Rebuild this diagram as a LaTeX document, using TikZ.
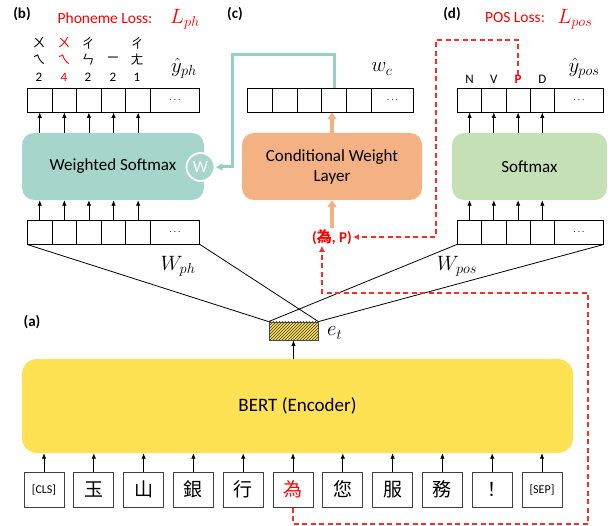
\documentclass[tikz,border=0pt]{standalone}
\usepackage{fontspec}
\setmainfont{Carlito}
\newfontfamily\cjk{Noto Sans CJK TC}
\usetikzlibrary{arrows.meta,patterns}

\definecolor{tealbox}{HTML}{A6D6CB}
\definecolor{tealline}{HTML}{96D0C4}
\definecolor{orangebox}{HTML}{F4B183}
\definecolor{greenbox}{HTML}{C5E0B4}
\definecolor{bertyellow}{HTML}{FFE253}
\definecolor{myred}{HTML}{FF0000}
\definecolor{dashred}{HTML}{FF2A2A}

\begin{document}
\begin{tikzpicture}[x=1pt,y=-1pt,
  cell/.style={draw, line width=0.9pt, minimum height=24pt, inner sep=0pt, anchor=west},
  arr/.style={-{Latex[length=5.5pt,width=4.5pt]}, line width=0.8pt},
  bigbox/.style={rounded corners=12pt, minimum height=67pt, inner sep=0pt, align=center, font=\fontsize{17}{20}\selectfont},
  tok/.style={draw=black!75, line width=1pt, minimum width=40pt, minimum height=35pt, inner sep=0pt},
  reddash/.style={draw=dashred, line width=1.5pt, dash pattern=on 5pt off 3.5pt, -{Latex[length=6pt,width=6pt]}},
  orarr/.style={draw=orangebox, line width=3.5pt, -{Triangle[length=7pt,width=9pt]}},
  lbl/.style={font=\fontsize{15}{18}\selectfont\bfseries},
  loss/.style={text=myred, font=\fontsize{15.5}{18}\selectfont},
  mlab/.style={font=\fontsize{20}{24}\selectfont, inner sep=0pt},
  zh/.style={font=\fontsize{13}{14}\selectfont\cjk, inner sep=0pt},
  tone/.style={font=\fontsize{13}{14}\selectfont, inner sep=0pt}
]
\useasboundingbox (0,0) rectangle (616,526);

% ---------- section labels ----------
\node[lbl] (lb) at (22,14) {(b)};
\node[lbl] (lc) at (235,14) {(c)};
\node[lbl] (ld) at (452,14) {(d)};
\node[lbl] (la) at (32,322) {(a)};
\node[loss] (phl) at (105,18) {Phoneme Loss:};
\node[mlab, text=myred] (Lph) at (185,19) {$L_{ph}$};
\node[loss] (posl) at (515,18) {POS Loss:};
\node[mlab, text=myred] (Lpos) at (575,19) {$L_{pos}$};

% ---------- (b) phoneme branch ----------
\foreach \i in {1,...,5} {
  \node[cell, minimum width=24.6pt] (phT\i) at ({27+24.6*(\i-1)},100) {};
  \node[cell, minimum width=24.6pt] (phB\i) at ({27+24.6*(\i-1)},232) {};
}
\node[cell, minimum width=49pt] (phTd) at (150,100) {$\cdots$};
\node[cell, minimum width=49pt] (phBd) at (150,232) {$\cdots$};

\node[bigbox, fill=tealbox, minimum width=182pt] (ws) at (113,166.5) {Weighted Softmax};
\node[circle, fill=tealbox, draw=white, line width=1.8pt, minimum size=28pt, inner sep=0pt,
      text=white, font=\fontsize{17}{17}\selectfont] (wcirc) at (200.5,167) {W};

\foreach \i in {1,...,5} {
  \draw[arr] (phT\i.south |- ws.north) -- (phT\i.south);
  \draw[arr] (phB\i.north) -- (phB\i.north |- ws.south);
}

% zhuyin labels
\node[zh] (z11) at (39,43) {ㄨ};
\node[zh] (z12) at (39,60) {ㄟ};
\node[tone] (z13) at (39,77) {2};
\node[zh, text=myred] (z21) at (64,43) {ㄨ};
\node[zh, text=myred] (z22) at (64,60) {ㄟ};
\node[tone, text=myred] (z23) at (64,77) {4};
\node[zh] (z31) at (88,43) {ㄔ};
\node[zh] (z32) at (88,60) {ㄣ};
\node[tone] (z33) at (88,77) {2};
\node[zh] (z42) at (113,60) {ㄧ};
\node[tone] (z43) at (113,77) {2};
\node[zh] (z51) at (137,43) {ㄔ};
\node[zh] (z52) at (137,60) {ㄤ};
\node[tone] (z53) at (137,77) {1};
\node[mlab] (yph) at (184,68) {$\hat{y}_{ph}$};
\node[mlab] (Wph) at (178,266) {$W_{ph}$};

% ---------- (c) conditional weight ----------
\foreach \i in {1,...,5} {
  \node[cell, minimum width=24.8pt] (wc\i) at ({247+24.8*(\i-1)},100) {};
}
\node[cell, minimum width=42pt] (wcd) at (371,100) {$\cdots$};
\node[mlab] (wclab) at (382,69) {$w_c$};
\node[bigbox, fill=orangebox, minimum width=180pt] (cw) at (332,166.5) {Conditional Weight\\Layer};

% ---------- (d) POS branch ----------
\foreach \i in {1,...,4} {
  \node[cell, minimum width=24.25pt] (posT\i) at ({457+24.25*(\i-1)},100) {};
  \node[cell, minimum width=24.25pt] (posB\i) at ({457+24.25*(\i-1)},232) {};
}
\node[cell, minimum width=49pt] (posTd) at (554,100) {$\cdots$};
\node[cell, minimum width=49pt] (posBd) at (554,232) {$\cdots$};
\node[bigbox, fill=greenbox, minimum width=155pt] (sm) at (529.5,166.5) {Softmax};
\foreach \i in {1,...,4} {
  \draw[arr] (posT\i.south |- sm.north) -- (posT\i.south);
  \draw[arr] (posB\i.north) -- (posB\i.north |- sm.south);
}
\node[tone] (lN) at (posT1.north |- 0,79) {N};
\node[tone] (lV) at (posT2.north |- 0,79) {V};
\node[tone, text=myred, font=\fontsize{13}{14}\selectfont\bfseries] (lP) at (posT3.north |- 0,79) {P};
\node[tone] (lD) at (posT4.north |- 0,79) {D};
\node[mlab] (ypos) at (584,68) {$\hat{y}_{pos}$};
\node[mlab] (Wpos) at (457,266) {$W_{pos}$};

% ---------- (a) encoder ----------
\node[draw=black!70, line width=0.8pt, minimum width=49pt, minimum height=18pt, inner sep=0pt,
      fill=bertyellow, postaction={pattern=north east lines, pattern color=black!80}] (et) at (293.5,331) {};
\node[mlab, anchor=west] (etlab) at (327,333) {$e_t$};
\node[rounded corners=15pt, fill=bertyellow, minimum width=551pt, minimum height=94pt,
      font=\fontsize{19}{22}\selectfont] (bert) at (297.5,406) {BERT (Encoder)};
\draw[arr] (bert.north -| et.south) -- (et.south);

\foreach \t [count=\i from 0] in {{\fontsize{12}{13}\selectfont [CLS]},{\cjk 玉},{\cjk 山},{\cjk 銀},{\cjk 行},{\cjk\color{myred}為},{\cjk 您},{\cjk 服},{\cjk 務},{\cjk ！},{\fontsize{12}{13}\selectfont [SEP]}} {
  \node[tok, font=\fontsize{19}{20}\selectfont] (t\i) at ({44+49.8*\i},489.5) {\t};
  \draw[arr] (t\i.north) -- (t\i.north |- bert.south);
}

% projection lines
\draw[line width=0.8pt] (phB1.south west) -- (et.north west);
\draw[line width=0.8pt] (phBd.south east) -- (et.north east);
\draw[line width=0.8pt] (posB1.south west) -- (et.north west);
\draw[line width=0.8pt] (posBd.south east) -- (et.north east);

% (為, P)
\node[text=myred, font=\fontsize{15}{18}\selectfont\bfseries, inner sep=1pt] (wp) at (332,237) {({\cjk 為}, P)};

% orange arrows
\draw[orarr] (wp.north) -- (cw.south);
\draw[orarr] (cw.north) -- (cw.north |- wc4.south);

% teal connector
\coordinate (c1) at (wc4.north |- 0,55);
\coordinate (c2) at (232,55);
\coordinate (c3) at (232,167);
\draw[draw=tealline, line width=3pt, -{Latex[length=7pt,width=8pt]}] (wc4.north) -- (c1) -- (c2) -- (c3) -- (wcirc.east);

% red dashed connectors
\coordinate (d1) at (lP.north |- 0,40);
\coordinate (d2) at (436,40);
\coordinate (d3) at (436,237);
\draw[reddash] (lP.north) -- (d1) -- (d2) -- (d3) -- (d3 -| wp.east);

\coordinate (e1) at (t5.south |- 0,524);
\coordinate (e2) at (588,524);
\coordinate (e3) at (588,293);
\coordinate (e4) at (322,293);
\draw[reddash] (t5.south) -- (e1) -- (e2) -- (e3) -- (e4) -- (e4 |- wp.south);
\end{tikzpicture}
\end{document}
